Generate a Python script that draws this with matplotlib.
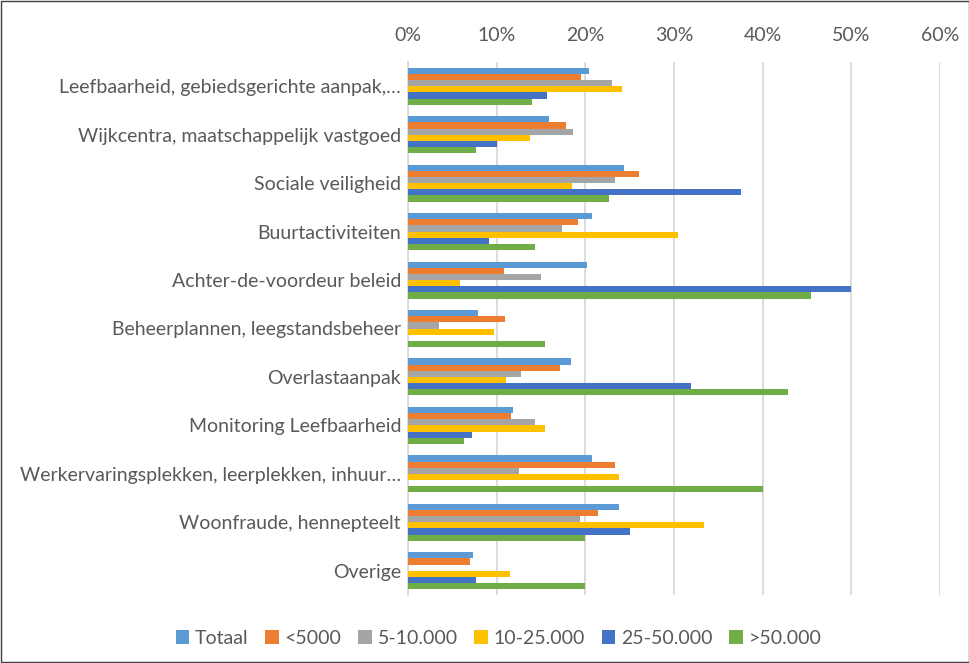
import numpy as np
import matplotlib.pyplot as plt
from matplotlib.patches import Rectangle
from matplotlib.ticker import FuncFormatter

## DATA

categories = [
    "Leefbaarheid, gebiedsgerichte aanpak,…",
    "Wijkcentra, maatschappelijk vastgoed",
    "Sociale veiligheid",
    "Buurtactiviteiten",
    "Achter-de-voordeur beleid",
    "Beheerplannen, leegstandsbeheer",
    "Overlastaanpak",
    "Monitoring Leefbaarheid",
    "Werkervaringsplekken, leerplekken, inhuur…",
    "Woonfraude, hennepteelt",
    "Overige",
]

series_names = ["Totaal", "<5000", "5-10.000", "10-25.000", "25-50.000", ">50.000"]

totaal = [20.4, 15.9, 24.4, 20.7, 20.2, 7.9, 18.4, 11.8, 20.8, 23.8, 7.3]
lt5000 = [19.5, 17.8, 26.0, 19.2, 10.8, 10.9, 17.1, 11.6, 23.4, 21.4, 7.0]
s5_10 = [23.0, 18.6, 23.4, 17.4, 15.0, 3.5, 12.8, 14.3, 12.5, 19.4, 0.0]
s10_25 = [24.1, 13.8, 18.5, 30.4, 5.9, 9.7, 11.1, 15.4, 23.8, 33.4, 11.5]
s25_50 = [15.7, 10.0, 37.5, 9.1, 50.0, 0.0, 31.9, 7.2, 0.0, 25.0, 7.7]
gt50 = [14.0, 7.7, 22.7, 14.3, 45.5, 15.4, 42.9, 6.3, 40.0, 20.0, 20.0]

series = [totaal, lt5000, s5_10, s10_25, s25_50, gt50]
colors = ["#5B9BD5", "#ED7D31", "#A5A5A5", "#FFC000", "#4472C4", "#70AD47"]

## PLOTTING

plt.rcParams['font.family'] = ['Lato', 'DejaVu Sans']
text_color = '#595959'
fs = 14

fig = plt.figure(figsize=(9.7, 6.63), dpi=100)
ax = fig.add_axes([408 / 970, 1 - 595 / 663, 532 / 970, 533 / 663])

y = np.arange(len(categories))
bar_h = 0.127
for i, (vals, col, name) in enumerate(zip(series, colors, series_names)):
    offs = (i - 2.5) * bar_h
    ax.barh(y + offs, vals, height=bar_h, color=col, label=name, zorder=3)

ax.set_xlim(0, 60)
ax.set_ylim(len(categories) - 0.5, -0.5)
ax.set_xticks(np.arange(0, 61, 10))
ax.xaxis.set_major_formatter(FuncFormatter(lambda v, p: f"{int(v)}%"))
ax.xaxis.tick_top()
ax.tick_params(axis='x', length=0, pad=13, labelsize=fs, labelcolor=text_color)
ax.set_yticks(y)
ax.set_yticklabels(categories)
ax.tick_params(axis='y', length=0, pad=5, labelsize=fs, labelcolor=text_color)
ax.grid(axis='x', color='#D9D9D9', lw=1.3, zorder=0)
for s in ['top', 'right', 'bottom']:
    ax.spines[s].set_visible(False)
ax.spines['left'].set_color('#D9D9D9')
ax.spines['left'].set_linewidth(1.3)

leg = fig.legend(loc='center', bbox_to_anchor=(0.514, 0.037), ncol=6, frameon=False,
                 fontsize=fs, handlelength=0.7, handleheight=0.7, handletextpad=0.3,
                 columnspacing=0.85)
for t in leg.get_texts():
    t.set_color(text_color)

# border round the chart
fig.patches.append(Rectangle((0.001, 0.001), 0.998, 0.997, transform=fig.transFigure,
                             fill=False, edgecolor='#404040', lw=1))

fig.savefig('out.png', dpi=100)
